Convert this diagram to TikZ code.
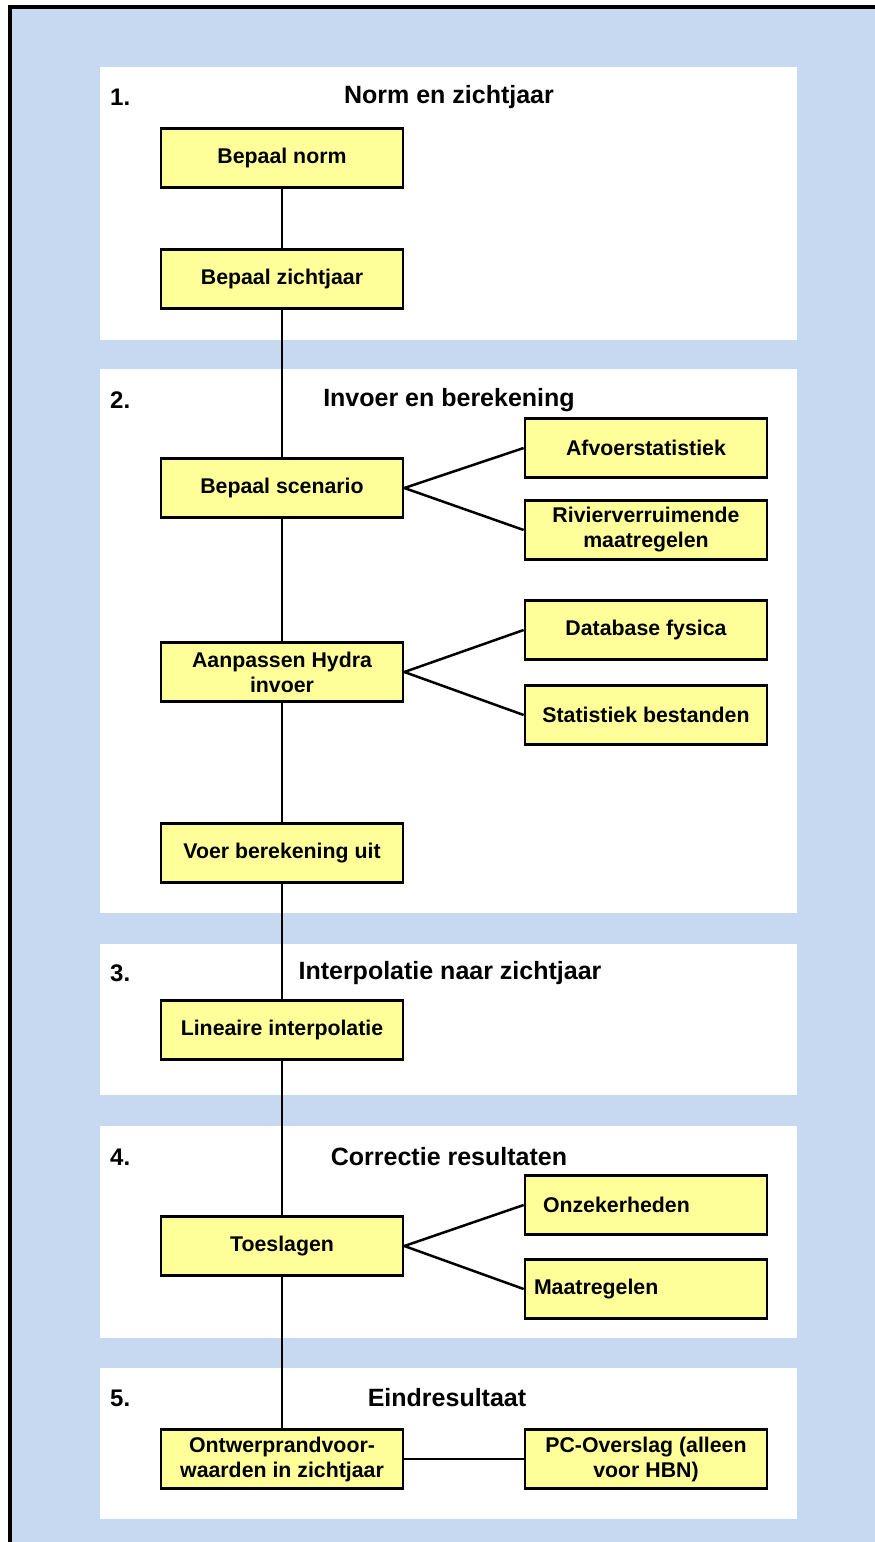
\documentclass[tikz,border=0pt]{standalone}
\usepackage{fontspec}
\setmainfont{Liberation Sans}
\definecolor{bgblue}{RGB}{198,217,241}
\definecolor{boxyellow}{RGB}{255,255,153}
\begin{document}
\begin{tikzpicture}[x=1pt,y=-1pt,
  panel/.style={fill=white,draw=none},
  stepbox/.style={draw=black,line width=2.7pt,fill=boxyellow,minimum width=242pt,minimum height=59pt,
    inner sep=2pt,align=center,font=\fontsize{21.3}{25}\selectfont\bfseries},
  title/.style={font=\fontsize{25}{30}\selectfont\bfseries,inner sep=0pt},
  num/.style={font=\fontsize{24}{28}\selectfont\bfseries,anchor=west,inner sep=0pt},
  link/.style={line width=2.5pt}]
\useasboundingbox (0,0) rectangle (875,1542);
% background and frame
\fill[bgblue] (0,0) rectangle (875,1542);
\fill[white] (0,0) rectangle (875,5);
\fill[white] (0,0) rectangle (8,1542);
\fill[black] (8,5) rectangle (875,8.5);
\fill[black] (8,5) rectangle (12,1542);
% panels
\fill[panel] (100,67) rectangle (797,340);
\fill[panel] (100,369) rectangle (797,913);
\fill[panel] (100,944) rectangle (797,1095);
\fill[panel] (100,1126) rectangle (797,1338);
\fill[panel] (100,1368) rectangle (797,1519);
% panel headings
\node[num] (n1) at (110,97) {1.};
\node[title] (t1) at (449,97) {Norm en zichtjaar};
\node[num] (n2) at (110,400) {2.};
\node[title] (t2) at (449,400) {Invoer en berekening};
\node[num] (n3) at (110,973) {3.};
\node[title] (t3) at (450,973) {Interpolatie naar zichtjaar};
\node[num] (n4) at (110,1157) {4.};
\node[title] (t4) at (449,1157) {Correctie resultaten};
\node[num] (n5) at (110,1398) {5.};
\node[title] (t5) at (447,1398) {Eindresultaat};
% boxes
\node[stepbox] (norm) at (282,158) {Bepaal norm};
\node[stepbox] (zicht) at (282,279) {Bepaal zichtjaar};
\node[stepbox] (scen) at (282,488) {Bepaal scenario};
\node[stepbox] (afvoer) at (646,448) {Afvoerstatistiek};
\node[stepbox] (rivier) at (646,530) {Rivierverruimende\\maatregelen};
\node[stepbox] (hydra) at (282,672) {Aanpassen Hydra\\invoer};
\node[stepbox] (db) at (646,630) {Database fysica};
\node[stepbox] (stat) at (646,715) {Statistiek bestanden};
\node[stepbox] (voer) at (282,853) {Voer berekening uit};
\node[stepbox] (lin) at (282,1030) {Lineaire interpolatie};
\node[stepbox] (toes) at (282,1246) {Toeslagen};
\node[stepbox,inner xsep=0pt] (onz) at (646,1205) {\makebox[242pt][l]{\hspace{18pt}Onzekerheden}};
\node[stepbox,inner xsep=0pt] (maat) at (646,1289) {\makebox[242pt][l]{\hspace{9pt}Maatregelen}};
\node[stepbox] (ontw) at (282,1459) {Ontwerprandvoor-\\waarden in zichtjaar};
\node[stepbox] (pc) at (646,1459) {PC-Overslag (alleen\\voor HBN)};
% connectors
\draw[link] (norm) -- (zicht);
\draw[link] (zicht) -- (scen);
\draw[link] (scen) -- (hydra);
\draw[link] (hydra) -- (voer);
\draw[link] (voer) -- (lin);
\draw[link] (lin) -- (toes);
\draw[link] (toes) -- (ontw);
\draw[link] (scen.east) -- (afvoer.west);
\draw[link] (scen.east) -- (rivier.west);
\draw[link] (hydra.east) -- (db.west);
\draw[link] (hydra.east) -- (stat.west);
\draw[link] (toes.east) -- (onz.west);
\draw[link] (toes.east) -- (maat.west);
\draw[link] (ontw) -- (pc);
\end{tikzpicture}
\end{document}
